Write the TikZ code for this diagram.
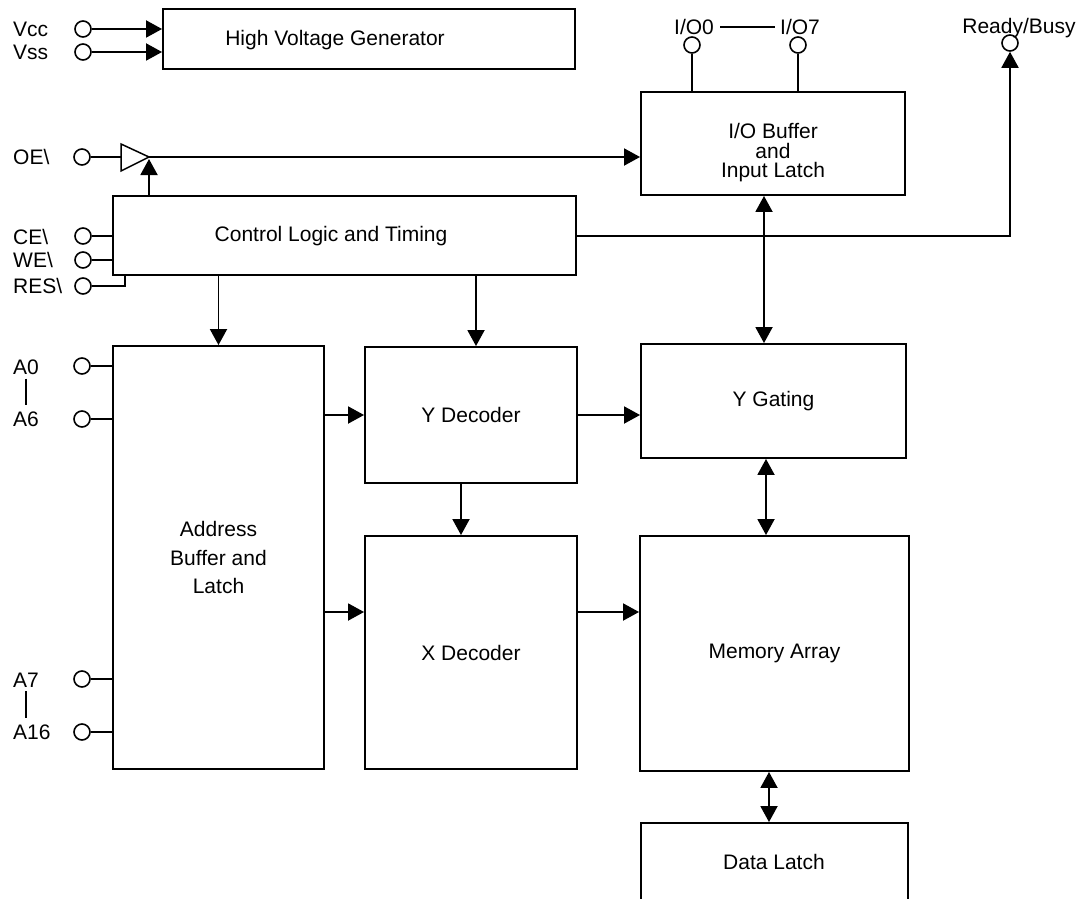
\documentclass[tikz,border=0pt]{standalone}
\usepackage{fontspec}
\setmainfont{Liberation Sans}
\usetikzlibrary{arrows.meta,calc}
\begin{document}
\begin{tikzpicture}[x=1pt,y=-1pt,
  every node/.style={font=\fontsize{21}{25}\selectfont},
  blk/.style={draw, line width=1.9pt, inner sep=0pt, align=center},
  port/.style={draw, circle, line width=1.6pt, minimum size=16pt, inner sep=0pt},
  lbl/.style={inner sep=0pt, anchor=west},
  txt/.style={inner sep=0pt, align=center},
  wire/.style={line width=1.9pt},
  arr/.style={line width=1.9pt, -{Triangle[length=16pt,width=17pt]}},
  darr/.style={line width=1.9pt, {Triangle[length=16pt,width=17pt]}-{Triangle[length=16pt,width=17pt]}},
]
\useasboundingbox (0,0) rectangle (1076,899);

% blocks
\node[blk, minimum width=412pt, minimum height=60pt] (hvg) at (369,39) {};
\node[txt] (hvgt) at (335,40) {High Voltage Generator};
\node[blk, minimum width=463pt, minimum height=79pt] (ctrl) at (344.5,235.5) {};
\node[txt] (ctrlt) at (331,236) {Control Logic and Timing};
\node[blk, minimum width=264pt, minimum height=103pt] (iob) at (773,143.5) {};
\node[txt, font=\fontsize{21}{19.5}\selectfont] (iobt) at (773,153) {I/O Buffer\\and\\Input Latch};
\node[blk, minimum width=211pt, minimum height=423pt, font=\fontsize{21}{28.5}\selectfont] (addr) at (218.5,557.5) {Address\\Buffer and\\Latch};
\node[blk, minimum width=212pt, minimum height=136pt] (ydec) at (471,415) {Y Decoder};
\node[blk, minimum width=212pt, minimum height=233pt] (xdec) at (471,652.5) {X Decoder};
\node[blk, minimum width=265pt, minimum height=114pt] (ygat) at (773.5,401) {Y Gating};
\node[blk, minimum width=269pt, minimum height=235pt] (mem) at (774.5,653.5) {Memory Array};
\node[blk, minimum width=267pt, minimum height=87pt] (dlat) at (774.5,866.5) {};
\node[txt] (dlatt) at (774,862) {Data Latch};

% ports
\node[port] (vcc) at (83,29) {};
\node[port] (vss) at (83,52) {};
\node[port] (oe)  at (82,157) {};
\node[port] (ce)  at (83,236) {};
\node[port] (we)  at (83,260) {};
\node[port] (res) at (83,286) {};
\node[port] (a0)  at (82,366) {};
\node[port] (a6)  at (82,419) {};
\node[port] (a7)  at (82,679) {};
\node[port] (a16) at (82,732) {};
\node[port] (io0) at (692,45) {};
\node[port] (io7) at (798,45) {};
\node[port] (rdy) at (1010,43) {};

% labels
\node[lbl] (vccl) at (13,29) {Vcc};
\node[lbl] (vssl) at (13,52) {Vss};
\node[lbl] (oel)  at (13,157) {OE\textbackslash};
\node[lbl] (cel)  at (13,237) {CE\textbackslash};
\node[lbl] (wel)  at (13,260) {WE\textbackslash};
\node[lbl] (resl) at (13,286) {RES\textbackslash};
\node[lbl] (a0l)  at (13,367) {A0};
\node[lbl] (a6l)  at (13,419) {A6};
\node[lbl] (a7l)  at (13,680) {A7};
\node[lbl] (a16l) at (13,732) {A16};
\node[txt] (io0l) at (694,27) {I/O0};
\node[txt] (io7l) at (800,27) {I/O7};
\node[txt] (rdyl) at (1019,28) {Ready/Busy};

\draw[wire, shorten <=4pt, shorten >=6pt] (a0l.south) -- (a0l.south |- a6l.north);
\draw[wire, shorten <=4pt, shorten >=6pt] (a7l.south) -- (a7l.south |- a16l.north);
\draw[wire, shorten <=6pt, shorten >=5pt] (io0l.east) -- (io7l.west);

% power
\draw[arr] (vcc.east) -- (hvg.west |- vcc);
\draw[arr] (vss.east) -- (hvg.west |- vss);

% OE buffer
\coordinate (bufL) at (121,157);
\coordinate (bufT) at (149,157);
\draw[line width=1.5pt, line join=miter] (121,144) -- (bufT) -- (121,171) -- cycle;
\draw[wire] (oe.east) -- (bufL);
\draw[arr] (bufT) -- (iob.west |- bufT);
\draw[arr] (ctrl.north -| bufT) -- ($(bufT)+(0,2)$);

% control inputs
\draw[wire] (ce.east) -- (ctrl.west |- ce);
\draw[wire] (we.east) -- (ctrl.west |- we);
\draw[wire] (res.east) -| ([xshift=13pt]ctrl.south west);

% address inputs
\draw[wire] (a0.east) -- (addr.west |- a0);
\draw[wire] (a6.east) -- (addr.west |- a6);
\draw[wire] (a7.east) -- (addr.west |- a7);
\draw[wire] (a16.east) -- (addr.west |- a16);

% I/O pins
\draw[wire] (io0.south) -- (iob.north -| io0);
\draw[wire] (io7.south) -- (iob.north -| io7);

% ready/busy
\coordinate (rbrow) at (0,236);
\draw[arr] (ctrl.east |- rbrow) -| (rdy.south);

% control to decoders
\draw[arr] (addr.north |- ctrl.south) -- (addr.north);
\draw[arr] ([xshift=5pt]ydec.north |- ctrl.south) -- ([xshift=5pt]ydec.north);

% address to decoders
\coordinate (xrow) at (0,612);
\draw[arr] (addr.east |- ydec) -- (ydec.west);
\draw[arr] (addr.east |- xrow) -- (xdec.west |- xrow);
\draw[arr] ([xshift=-10pt]ydec.south) -- ([xshift=-10pt]xdec.north);
\draw[arr] (ydec.east) -- (ygat.west |- ydec.east);
\draw[arr] (xdec.east |- xrow) -- (mem.west |- xrow);

% data path
\draw[darr] ([xshift=-9pt]iob.south) -- ([xshift=-9pt]iob.south |- ygat.north);
\draw[darr] ([xshift=-7.5pt]ygat.south) -- ([xshift=-7.5pt]ygat.south |- mem.north);
\draw[darr] ([xshift=-5.5pt]mem.south) -- ([xshift=-5.5pt]mem.south |- dlat.north);
\end{tikzpicture}
\end{document}
